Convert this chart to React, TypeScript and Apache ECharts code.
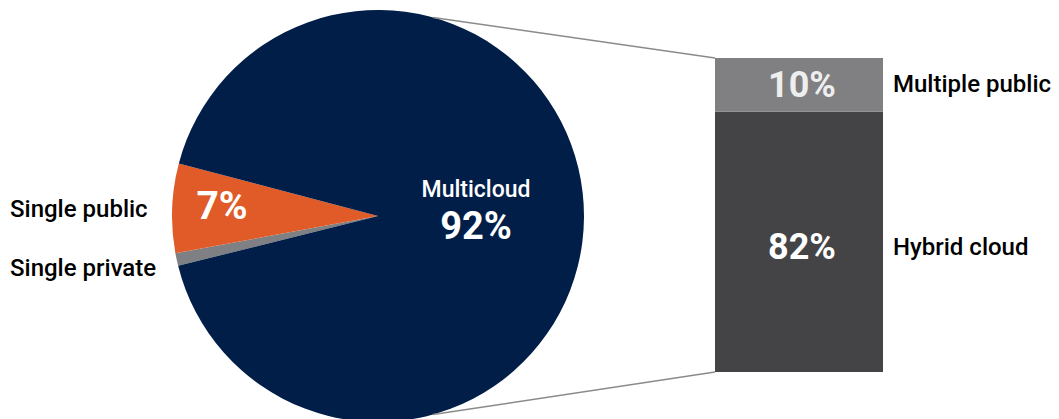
import React, { useEffect, useRef } from "react";
import * as echarts from "echarts";

// ---- data ----
const pieNames = ["Single private", "Single public", "Multicloud"];
const pieValues = [1, 7, 92];
const pieColors = ["#7f8083", "#e05b27", "#001e48"];

const barNames = ["Hybrid cloud", "Multiple public"];
const barValues = [82, 10];
const barColors = ["#444446", "#808083"];
const barCategory = ["Multicloud"];

// ---- layout ----
const PIE_CX = 378;
const PIE_CY = 216;
const PIE_R = 206;
const GRID_LEFT = 715;
const GRID_TOP = 58;
const GRID_W = 168;
const GRID_H = 314;
const CONNECT_DEG = 15.5;
const FONT = "Roboto, 'Noto Sans', sans-serif";
const NAME_SIZE = 24;

export default function App() {
  const ref = useRef<HTMLDivElement>(null);

  useEffect(() => {
    document.body.style.margin = "0";
    const chart = echarts.init(ref.current!, null, { renderer: "svg" });

    const a = (CONNECT_DEG * Math.PI) / 180;
    const topPt = [PIE_CX + PIE_R * Math.sin(a), PIE_CY - PIE_R * Math.cos(a)];
    const botPt = [PIE_CX + PIE_R * Math.sin(a), PIE_CY + PIE_R * Math.cos(a)];

    const innerLabel = (name: string, v: number) => {
      if (name === "Multicloud")
        return {
          show: true,
          position: "inside",
          formatter: `{n|${name}}\n{v|${v}%}`,
          rich: {
            n: { color: "#fff", fontSize: 23, fontFamily: FONT, fontWeight: 500, lineHeight: 32 },
            v: { color: "#fff", fontSize: 38, fontFamily: FONT, fontWeight: "bold", lineHeight: 40 },
          },
        };
      if (name === "Single public")
        return {
          show: true,
          position: "inside",
          formatter: `${v}%`,
          color: "#fff",
          fontSize: 39,
          fontWeight: "bold",
          fontFamily: FONT,
        };
      return { show: false };
    };

    const innerShift: Record<string, [number, number]> = {
      Multicloud: [-8, -7],
      "Single public": [-50, -6],
    };

    const option: any = {
      animation: false,
      grid: { left: GRID_LEFT, top: GRID_TOP, width: GRID_W, height: GRID_H },
      xAxis: { type: "category", data: barCategory, show: false },
      yAxis: { type: "value", min: 33.6, max: 92, startValue: 33.6, show: false },
      series: [
        {
          type: "pie",
          radius: PIE_R,
          center: [PIE_CX, PIE_CY],
          startAngle: 194,
          clockwise: true,
          silent: true,
          labelLine: { show: false },
          labelLayout: (p: any) => {
            const s = innerShift[pieNames[p.dataIndex]] || [0, 0];
            return { dx: s[0], dy: s[1] };
          },
          data: pieNames.map((n, i) => ({
            name: n,
            value: pieValues[i],
            itemStyle: { color: pieColors[i] },
            label: innerLabel(n, pieValues[i]),
          })),
        },
        {
          type: "pie",
          radius: PIE_R,
          center: [PIE_CX, PIE_CY],
          startAngle: 194,
          clockwise: true,
          silent: true,
          z: 1,
          itemStyle: { color: "transparent" },
          labelLine: { show: false, length: 30, length2: 0 },
          labelLayout: { dy: 2 },
          label: {
            show: true,
            position: "outside",
            alignTo: "edge",
            edgeDistance: 10,
            overflow: "none",
            width: 200,
            formatter: "{b}",
            color: "#000",
            fontSize: NAME_SIZE,
            fontWeight: 500,
            fontFamily: FONT,
          },
          data: pieNames.map((n, i) => ({
            name: n,
            value: pieValues[i],
            label: n === "Multicloud" ? { show: false } : undefined,
          })),
        },
        ...barNames.map((n, i) => ({
          type: "bar",
          name: n,
          stack: "cloud",
          barWidth: GRID_W,
          barGap: "-100%",
          data: [barValues[i]],
          itemStyle: { color: barColors[i] },
          label: {
            show: true,
            position: "inside",
            formatter: "{c}%",
            color: i === 0 ? "#ffffff" : "#eeeeee",
            fontSize: 36,
            fontWeight: "bold",
            fontFamily: FONT,
          },
          labelLayout: { dx: 3, dy: i === 0 ? 5 : 0 },
        })),
        ...barNames.map((n, i) => ({
          type: "bar",
          name: n + " ",
          stack: "names",
          barWidth: GRID_W,
          barGap: "-100%",
          silent: true,
          data: [barValues[i]],
          itemStyle: { color: "transparent" },
          label: {
            show: true,
            position: "right",
            distance: 10,
            formatter: n,
            color: "#000",
            fontSize: NAME_SIZE,
            fontWeight: 500,
            fontFamily: FONT,
          },
          labelLayout: { dy: i === 0 ? 5 : -1 },
        })),
      ],
      graphic: [
        {
          type: "line",
          shape: { x1: topPt[0], y1: topPt[1], x2: GRID_LEFT, y2: GRID_TOP },
          style: { stroke: "#8a8a8a", lineWidth: 1.5 },
          z: 100,
        },
        {
          type: "line",
          shape: { x1: botPt[0], y1: botPt[1], x2: GRID_LEFT, y2: GRID_TOP + GRID_H },
          style: { stroke: "#8a8a8a", lineWidth: 1.5 },
          z: 100,
        },
      ],
    };

    chart.setOption(option);
    return () => chart.dispose();
  }, []);

  return <div ref={ref} style={{ width: 1059, height: 419 }} />;
}
